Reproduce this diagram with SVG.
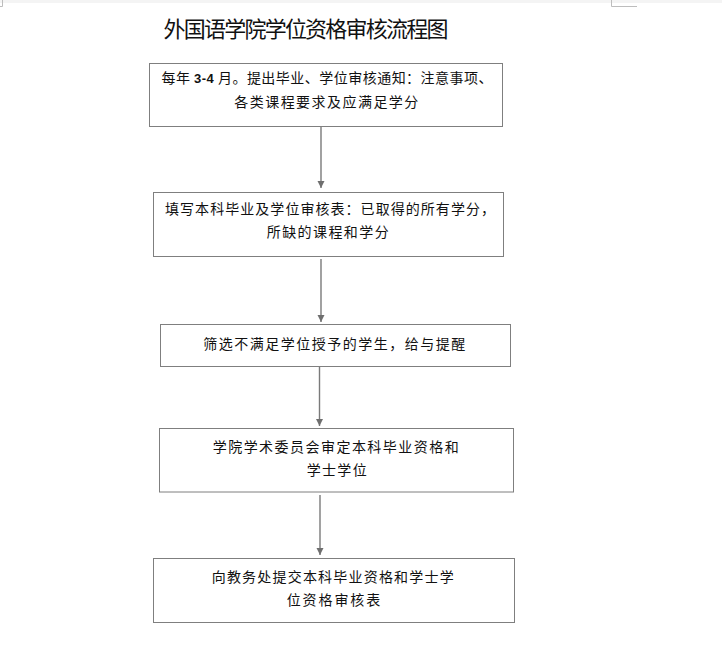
<svg xmlns="http://www.w3.org/2000/svg" width="722" height="672" viewBox="0 0 722 672">
<style>
.box{fill:#fff;stroke:#7f7f7f;stroke-width:1}
.t{font-family:"Noto Sans CJK SC","Noto Sans",sans-serif;font-size:14px;fill:#111}
.title{font-family:"Noto Sans CJK SC","Noto Sans",sans-serif;font-size:22px;fill:#111}
.num{font-family:"Liberation Sans",Arial,sans-serif;font-weight:bold;font-size:13px}
.c{stroke:#7a7a7a;stroke-width:1.4;fill:none}
.mark{stroke:#bdbdbd;stroke-width:1;fill:none}
</style>
<defs>
<marker id="ah" markerUnits="userSpaceOnUse" markerWidth="10" markerHeight="10" viewBox="0 0 10 10" refX="8" refY="5" orient="auto">
<path d="M1,1.5 L8,5 L1,8.5 Z" fill="#6f6f6f"/>
</marker>
</defs>
<rect x="0" y="0" width="722" height="672" fill="#fff"/>
<rect x="0" y="0" width="722" height="3" fill="#f4f4f4"/>
<g id="page-marks">
<path class="mark" d="M2.5,0 V6.5 H0"/>
<path class="mark" d="M611.5,0 V6.5 H637"/>
</g>
<g id="title">
<text class="title" x="163.5" y="36.5" textLength="285" lengthAdjust="spacing">外国语学院学位资格审核流程图</text>
</g>
<g id="connectors">
<line class="c" x1="321" y1="127" x2="321" y2="188" marker-end="url(#ah)"/>
<line class="c" x1="321" y1="259" x2="321" y2="322" marker-end="url(#ah)"/>
<line class="c" x1="319.5" y1="367" x2="319.5" y2="426" marker-end="url(#ah)"/>
<line class="c" x1="320" y1="495" x2="320" y2="555" marker-end="url(#ah)"/>
</g>
<g id="node1">
<rect class="box" x="149.5" y="63.5" width="353" height="63"/>
<text class="t" x="161.5" y="83.3" textLength="331" lengthAdjust="spacing">每年 <tspan class="num">3-4</tspan> 月。提出毕业、学位审核通知：注意事项、</text>
<text class="t" x="234.3" y="107" textLength="184" lengthAdjust="spacing">各类课程要求及应满足学分</text>
</g>
<g id="node2">
<rect class="box" x="153.5" y="192.5" width="350" height="64"/>
<text class="t" x="165" y="213.5" textLength="330" lengthAdjust="spacing">填写本科毕业及学位审核表：已取得的所有学分，</text>
<text class="t" x="266.7" y="237" textLength="122" lengthAdjust="spacing">所缺的课程和学分</text>
</g>
<g id="node3">
<rect class="box" x="160.5" y="324.5" width="350" height="42"/>
<text class="t" x="203.3" y="348.6" textLength="262" lengthAdjust="spacing">筛选不满足学位授予的学生，给与提醒</text>
</g>
<g id="node4">
<rect class="box" x="159.5" y="428.5" width="354" height="63.5"/>
<text class="t" x="212.7" y="452" textLength="246" lengthAdjust="spacing">学院学术委员会审定本科毕业资格和</text>
<text class="t" x="306.7" y="474.6" textLength="60" lengthAdjust="spacing">学士学位</text>
</g>
<g id="node5">
<rect class="box" x="153.5" y="558.5" width="361" height="64"/>
<text class="t" x="211.7" y="582" textLength="242" lengthAdjust="spacing">向教务处提交本科毕业资格和学士学</text>
<text class="t" x="286.7" y="605.3" textLength="93.5" lengthAdjust="spacing">位资格审核表</text>
</g>
</svg>
